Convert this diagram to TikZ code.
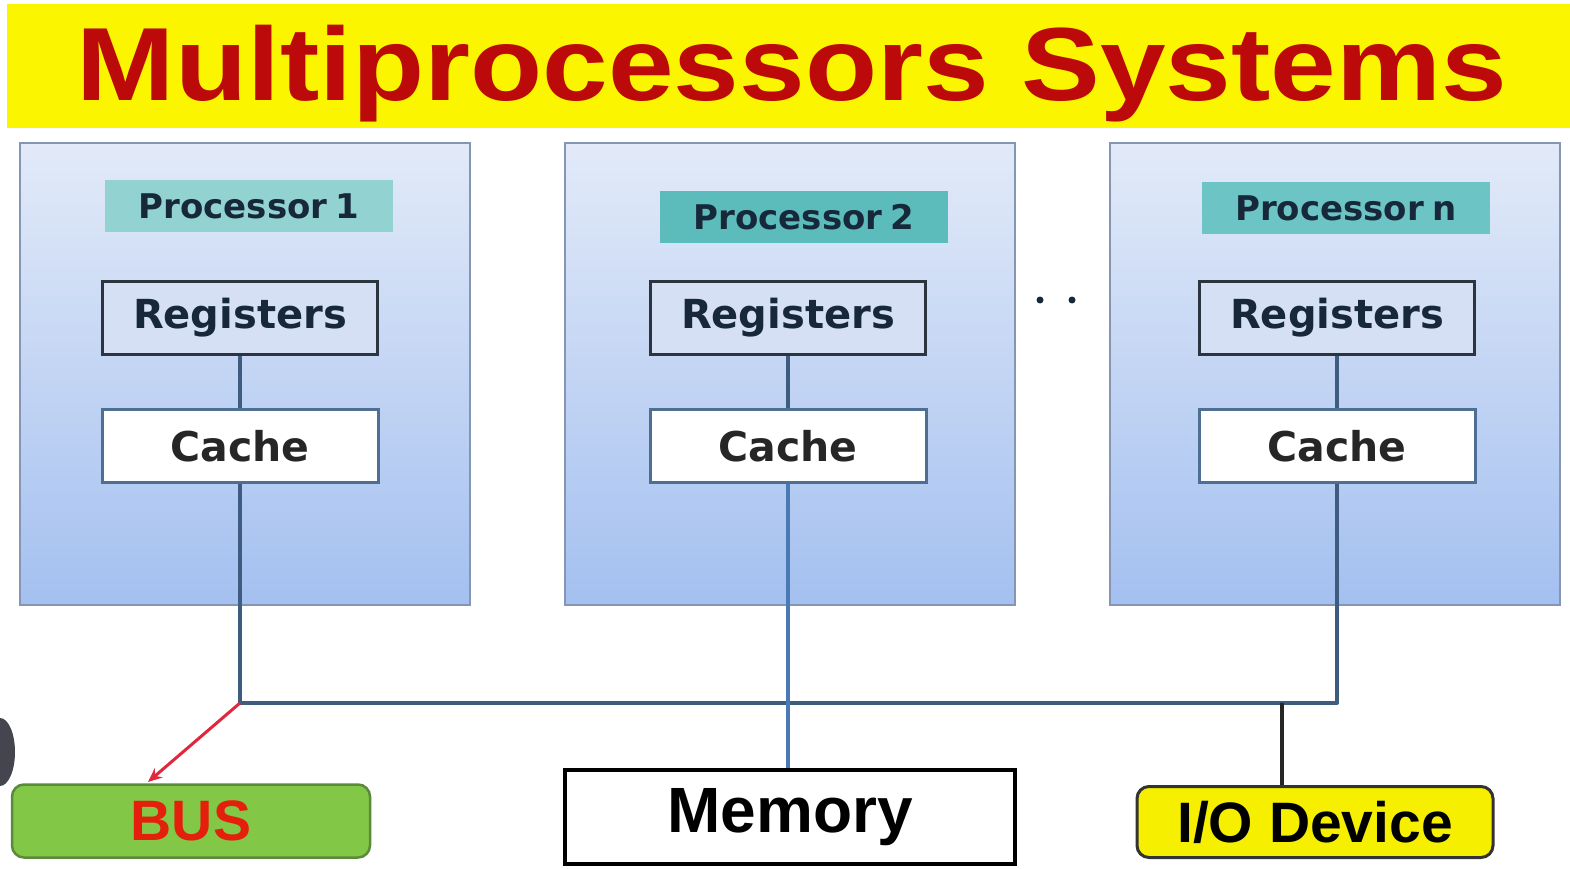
\documentclass[tikz,border=0pt]{standalone}
\usepackage{fontspec}
\setmainfont{Liberation Sans}
\newfontfamily\vfont{DejaVu Sans}
\usetikzlibrary{arrows.meta}
\definecolor{banner}{HTML}{FBF500}
\definecolor{titlered}{HTML}{BC0A0A}
\definecolor{boxtop}{HTML}{E2EAF8}
\definecolor{boxbot}{HTML}{A4C0F0}
\definecolor{boxedge}{HTML}{8496B4}
\definecolor{teal1}{HTML}{92D2D0}
\definecolor{teal2}{HTML}{5CBCBC}
\definecolor{teal3}{HTML}{6CC4C4}
\definecolor{navytxt}{HTML}{17283A}
\definecolor{regfill}{HTML}{D6E0F4}
\definecolor{regedge}{HTML}{2C3440}
\definecolor{cacheedge}{HTML}{4E6E94}
\definecolor{wire}{HTML}{3E5C80}
\definecolor{wire2}{HTML}{4A7AB4}
\definecolor{busgreen}{HTML}{82C846}
\definecolor{busedge}{HTML}{5C8A3C}
\definecolor{busred}{HTML}{E4200C}
\definecolor{arrowred}{HTML}{E0283C}
\definecolor{ioyellow}{HTML}{F6F000}
\definecolor{blob}{HTML}{45454F}
\tikzset{
  procbox/.style={draw=boxedge, line width=2.5pt, top color=boxtop, bottom color=boxbot, minimum width=450pt, minimum height=462pt, inner sep=0pt},
  plabel/.style={minimum width=288pt, minimum height=52pt, inner sep=0pt, text=navytxt, font=\vfont\bfseries\fontsize{34}{40}\selectfont},
  regbox/.style={draw=regedge, line width=3pt, fill=regfill, minimum width=275pt, minimum height=73pt, inner sep=0pt, text=navytxt, font=\vfont\bfseries\fontsize{40}{44}\selectfont},
  cachebox/.style={draw=cacheedge, line width=3pt, fill=white, minimum width=276pt, minimum height=73pt, inner sep=0pt, text=black!85, font=\vfont\bfseries\fontsize{41}{46}\selectfont},
  wireline/.style={draw=wire, line width=4pt},
}
\begin{document}
\begin{tikzpicture}[x=1pt,y=-1pt]
\useasboundingbox[fill=white] (0,0) rectangle (1570,869);
% banner
\node[fill=banner, minimum width=1563pt, minimum height=124pt, inner sep=0pt, anchor=north west] (banner) at (7,4) {};
\node[text=titlered, font=\bfseries\fontsize{104}{110}\selectfont, inner sep=0pt] (title) at (792,74) {\scalebox{1.135}[1]{Multiprocessors Systems}};
% left edge artifact
\fill[blob] (0,752) ellipse (15 and 34);
% processor boxes
\node[procbox] (p1) at (245,374) {};
\node[procbox] (p2) at (790,374) {};
\node[procbox] (p3) at (1335,374) {};
\node[plabel, fill=teal1] (l1) at (249,206) {Processor\kern-0.1em\ 1};
\node[plabel, fill=teal2] (l2) at (804,217) {Processor\kern-0.1em\ 2};
\node[plabel, fill=teal3] (l3) at (1346,208) {Processor\kern-0.1em\ n};
\node[regbox] (r1) at (240,318) {Registers};
\node[regbox] (r2) at (788,318) {Registers};
\node[regbox] (r3) at (1337,318) {Registers};
\node[cachebox] (c1) at (240,446) {Cache};
\node[cachebox] (c2) at (788,446) {Cache};
\node[cachebox] (c3) at (1337,446) {Cache};
\draw[wireline] (r1.south) -- (c1.north);
\draw[wireline] (r2.south) -- (c2.north);
\draw[wireline] (r3.south) -- (c3.north);
% dots
\fill[navytxt] (1040,300) circle (3.5) (1072,300) circle (3.5);
% bottom nodes
\node[draw=busedge, line width=2.5pt, fill=busgreen, rounded corners=12pt, minimum width=358pt, minimum height=73pt, inner sep=0pt, text=busred, font=\bfseries\fontsize{57}{60}\selectfont] (bus) at (191,821) {BUS};
\node[draw=black, line width=3.5pt, fill=white, minimum width=450pt, minimum height=94pt, inner sep=0pt, text=black, font=\bfseries\fontsize{64}{68}\selectfont] (mem) at (790,817) {Memory};
\node[draw=black!80, line width=3pt, fill=ioyellow, rounded corners=12pt, minimum width=356pt, minimum height=71pt, inner sep=0pt, text=black, font=\bfseries\fontsize{57}{60}\selectfont] (io) at (1315,822) {I/O Device};
% bus wiring
\coordinate (busL) at (240,703);
\coordinate (busR) at (1337,703);
\coordinate (iop) at (1282,703);
\coordinate (bustip) at (148,782);
\draw[wireline, line join=round] (c1.south) -- (busL) -- (busR) -- (c3.south);
\draw[draw=wire2, line width=4pt] (c2.south) -- (c2.south |- mem.north);
\draw[draw=black!85, line width=4pt] (iop) -- (iop |- io.north);
\draw[draw=arrowred, line width=3pt, -{Stealth[length=14pt,width=12pt]}] (busL) -- (bustip);
\end{tikzpicture}
\end{document}
